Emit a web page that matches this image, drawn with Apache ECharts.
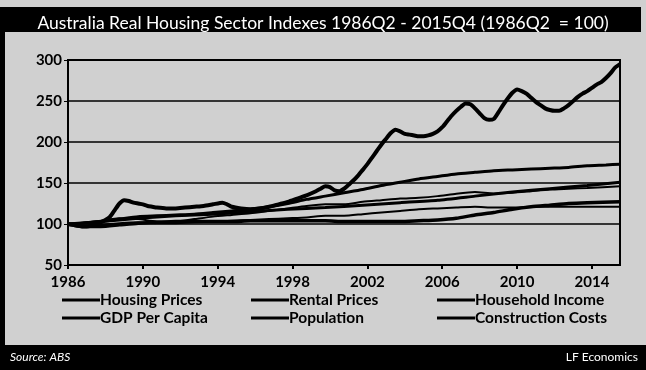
<!DOCTYPE html>
<html><head><meta charset="utf-8">
<script src="https://cdn.jsdelivr.net/npm/echarts@6/dist/echarts.min.js"></script>
<style>html,body{margin:0;padding:0;background:#d0d0d0}#c{width:646px;height:370px}</style>
</head><body><div id="c"></div>
<script>
// Values: [decimal year (1986.25 = 1986Q2), index value]
const seriesNames = ['Housing Prices','Rental Prices','Household Income','GDP Per Capita','Population','Construction Costs'];
const yearTicks = ['1986','1990','1994','1998','2002','2006','2010','2014'];
const housingPrices = [[1986.25,100],[1986.5,99],[1986.75,98],[1987.0,97],[1987.25,97],[1987.5,98],[1987.75,100],[1988.0,102],[1988.25,105],[1988.5,109],[1988.75,117],[1989.0,125],[1989.25,129],[1989.5,128],[1989.75,126],[1990.0,125],[1990.25,124],[1990.5,122],[1990.75,121],[1991.0,120],[1991.5,119],[1992.0,119],[1992.5,120],[1993.0,121],[1993.5,122],[1994.0,124],[1994.5,126],[1994.75,124],[1995.0,121],[1995.5,119],[1996.0,118],[1996.5,119],[1997.0,121],[1997.5,124],[1998.0,127],[1998.5,131],[1999.0,135],[1999.5,140],[1999.75,143],[2000.0,146],[2000.25,145],[2000.5,141],[2000.75,140],[2001.0,143],[2001.25,148],[2001.5,153],[2001.75,159],[2002.0,166],[2002.25,173],[2002.5,181],[2002.75,189],[2003.0,197],[2003.25,204],[2003.5,211],[2003.75,215],[2004.0,213],[2004.25,210],[2004.5,209],[2004.75,208],[2005.0,207],[2005.25,207],[2005.5,208],[2005.75,210],[2006.0,213],[2006.25,218],[2006.5,225],[2006.75,232],[2007.0,238],[2007.25,243],[2007.5,247],[2007.75,246],[2008.0,241],[2008.25,235],[2008.5,229],[2008.75,227],[2009.0,228],[2009.25,236],[2009.5,245],[2009.75,253],[2010.0,260],[2010.25,264],[2010.5,262],[2010.75,259],[2011.0,254],[2011.25,249],[2011.5,245],[2011.75,241],[2012.0,239],[2012.25,238],[2012.5,238],[2012.75,241],[2013.0,245],[2013.25,250],[2013.5,255],[2013.75,259],[2014.0,262],[2014.25,266],[2014.5,270],[2014.75,273],[2015.0,278],[2015.25,284],[2015.5,291],[2015.75,295]];
const rentalPrices = [[1986.25,100],[1987,97],[1988,97],[1989,99],[1990,101],[1991,102],[1992,103],[1993,103],[1994,103],[1995,103],[1996,104],[1997,104],[1998,104],[1999,104],[2000,104],[2001,103],[2002,103],[2003,103],[2004,103],[2005,104],[2006,105],[2007,107],[2008,111],[2009,114],[2010,118],[2011,121],[2012,123],[2013,125],[2014,126],[2015.75,127]];
const householdIncome = [[1986.25,100],[1987,101],[1988,103],[1989,106],[1990,109],[1991,110],[1992,111],[1993,112],[1994,114],[1995,116],[1996,118],[1997,121],[1998,125],[1999,130],[2000,134],[2001,138],[2002,142],[2003,147],[2004,151],[2005,155],[2006,158],[2007,161],[2008,163],[2009,165],[2010,166],[2011,167],[2012,168],[2013,169],[2014,171],[2015,172],[2015.75,173]];
const gdpPerCapita = [[1986.25,100],[1987,101],[1988,104],[1989,107],[1990,106],[1991,103],[1992,103],[1993,106],[1994,109],[1995,111],[1996,113],[1997,116],[1998,119],[1999,122],[2000,124],[2001,124],[2002,127],[2003,129],[2004,131],[2005,132],[2006,134],[2007,137],[2008,139],[2009,137],[2010,138],[2011,140],[2012,142],[2013,143],[2014,144],[2015.75,146]];
const population = [[1986.25,100],[1988,103],[1990,107],[1992,110],[1994,112],[1996,115],[1998,118],[2000,120],[2002,123],[2004,126],[2006,129],[2008,134],[2010,139],[2012,143],[2014,147],[2015.75,151]];
const constructionCosts = [[1986.25,100],[1987,98],[1988,99],[1989,101],[1990,102],[1991,101],[1992,101],[1993,102],[1994,103],[1995,104],[1996,105],[1997,106],[1998,107],[1999,108],[2000,110],[2001,110],[2002,112],[2003,114],[2004,116],[2005,118],[2006,119],[2007,120],[2008,121],[2009,120],[2010,120],[2011,121],[2012,121],[2013,121],[2014,121],[2015.75,121]];

const allData = [housingPrices, rentalPrices, householdIncome, gdpPerCapita, population, constructionCosts];
const widths = [4, 3.5, 3, 2, 3, 2];
const toQ = arr => arr.map(p => [(p[0] - 1986.25) * 4, p[1]]);
const F = 'Lato, "Open Sans", sans-serif';

const legendPos = [[57,287],[246,287],[432,287],[57,305],[246,305],[432,305]];
const chart = echarts.init(document.getElementById('c'), null, {renderer:'canvas'});
chart.setOption({
  backgroundColor: '#d0d0d0',
  animation: false,
  graphic: [
    {type:'rect', shape:{x:5,y:7,width:636,height:25}, style:{fill:'#000'}, z:0},
    {type:'rect', shape:{x:0,y:7,width:5,height:340}, style:{fill:'#000'}, z:0},
    {type:'rect', shape:{x:0,y:345,width:646,height:25}, style:{fill:'#000'}, z:0},
    {type:'text', left:10, top:351, style:{text:'Source: ABS', fill:'#fff', font:'italic 12px '+F}, z:10},
    {type:'text', right:8, top:351, style:{text:'LF Economics', fill:'#fff', font:'12px '+F}, z:10}
  ],
  title: {text:'Australia Real Housing Sector Indexes 1986Q2 - 2015Q4 (1986Q2  = 100)', left:'center', top:9,
    textStyle:{color:'#fff', fontFamily:F, fontWeight:'normal', fontSize:17.5}},
  legend: seriesNames.map((n,i) => ({data:[n], left:legendPos[i][0], top:legendPos[i][1], icon:'rect', itemWidth:38, itemHeight:3, itemGap:2,
    textStyle:{color:'#000', fontFamily:F, fontWeight:'bold', fontSize:15.5, padding:[0,0,0,-5]}})),
  grid: {left:68, right:26, top:60, bottom:105, show:true, borderColor:'#000', borderWidth:2, backgroundColor:'transparent'},
  xAxis: {type:'value', min:0, max:118, interval:16,
    axisLine:{lineStyle:{color:'#000', width:2}}, axisTick:{show:true, length:4, lineStyle:{color:'#000', width:2}},
    splitLine:{show:false},
    axisLabel:{color:'#000', fontFamily:F, fontWeight:'bold', fontSize:15, margin:10, showMaxLabel:false,
      formatter: v => (v % 16 === 0 ? yearTicks[v/16] : '')}},
  yAxis: {type:'value', min:50, max:300, interval:50,
    axisLine:{show:true, lineStyle:{color:'#000', width:2}}, axisTick:{show:true, length:4, lineStyle:{color:'#000'}},
    splitLine:{lineStyle:{color:'#000', width:1.5}},
    axisLabel:{color:'#000', fontFamily:F, fontWeight:'bold', fontSize:15, margin:6}},
  series: seriesNames.map((n,i) => ({name:n, type:'line', data:toQ(allData[i]), showSymbol:false, smooth:0.2,
    lineStyle:{color:'#000', width:widths[i]}, itemStyle:{color:'#000'}, z: 3+i}))
});
</script></body></html>
